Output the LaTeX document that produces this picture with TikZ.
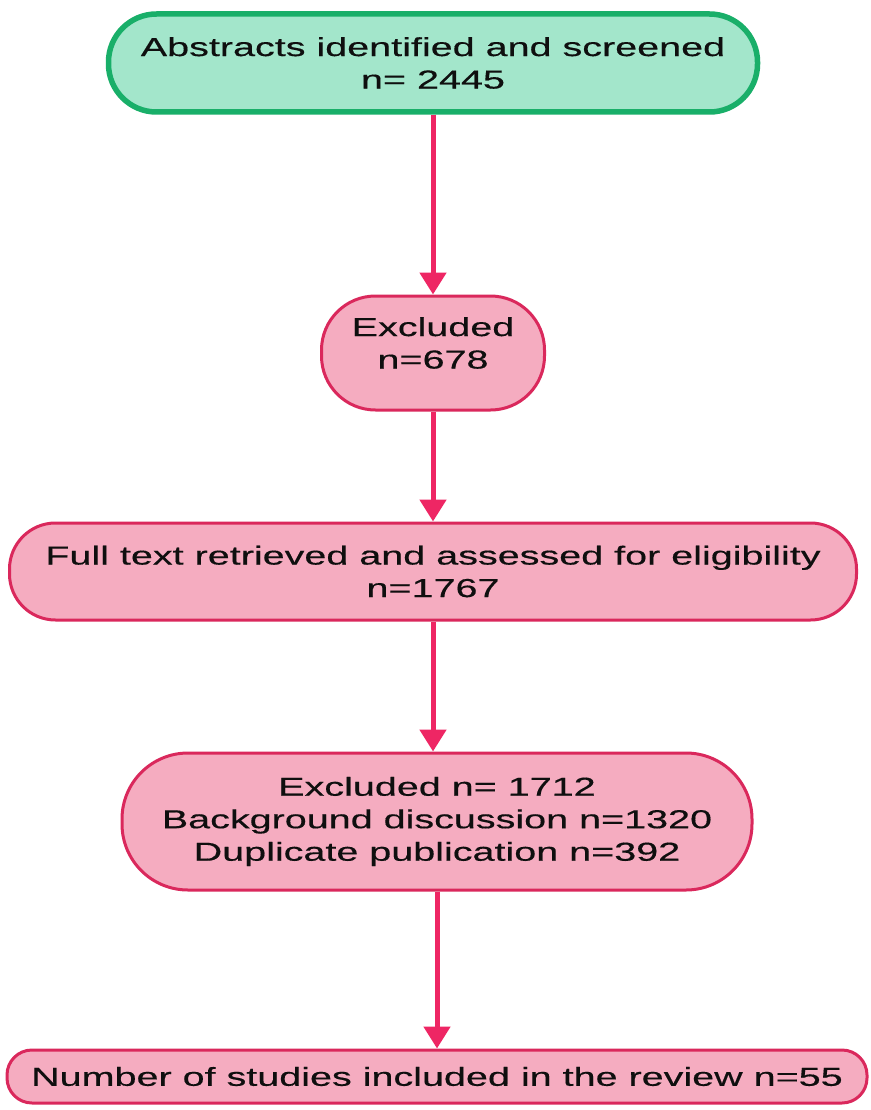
\documentclass[tikz,border=0pt]{standalone}
\usepackage{fontspec}
\setmainfont{Liberation Sans}[FakeStretch=1.52,FakeBold=0.4]
\usetikzlibrary{arrows.meta}
\definecolor{gfill}{RGB}{163,230,203}
\definecolor{gdraw}{RGB}{25,175,105}
\definecolor{pfill}{RGB}{245,172,192}
\definecolor{pdraw}{RGB}{218,40,92}
\definecolor{arr}{RGB}{238,38,100}
\definecolor{txt}{RGB}{15,15,15}
\begin{document}
\begin{tikzpicture}[x=1pt,y=-1pt,
  txtstyle/.style={align=center, text=txt, font=\fontsize{26}{32.5}\selectfont},
  box/.style={draw=pdraw, fill=pfill, line width=3pt, inner sep=0pt, txtstyle},
  gbox/.style={box, draw=gdraw, fill=gfill, line width=5.5pt},
  flow/.style={draw=arr, line width=5pt, -{Triangle[width=26pt,length=22pt]}}]
\useasboundingbox[fill=white] (0,0) rectangle (870,1110);
\node[gbox, minimum width=649pt, minimum height=98pt, rounded corners=48pt] (b1) at (433,63)
  {Abstracts identified and screened\\n= 2445};
\node[box, minimum width=223pt, minimum height=114pt, rounded corners=54pt,
  label={[txtstyle, yshift=10pt]center:{Excluded\\n=678}}] (b2) at (433,353) {};
\node[box, minimum width=847pt, minimum height=97pt, rounded corners=46pt] (b3) at (433,571.5)
  {Full text retrieved and assessed for eligibility\\n=1767};
\node[box, minimum width=630pt, minimum height=137pt, rounded corners=66pt] (b4) at (437,821.5)
  {Excluded n= 1712\\Background discussion n=1320\\Duplicate publication n=392};
\node[box, minimum width=860pt, minimum height=53pt, rounded corners=25pt] (b5) at (437,1076.5)
  {Number of studies included in the review n=55};
\draw[flow] (b1.south) -- (b2.north);
\draw[flow] (b2.south) -- (b3.north);
\draw[flow] (b3.south) -- (b4.north -| b3.south);
\draw[flow] (b4.south) -- (b5.north);
\end{tikzpicture}
\end{document}
